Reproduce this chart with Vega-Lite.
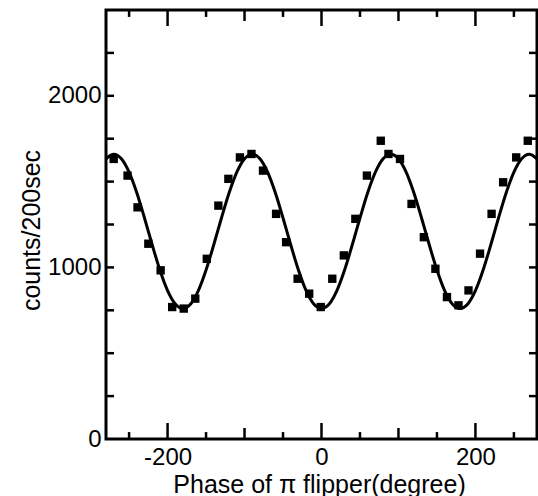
{
  "$schema": "https://vega.github.io/schema/vega-lite/v6.json",
  "width": 431,
  "height": 429,
  "autosize": {"type": "none"},
  "padding": {"left": 106, "top": 10, "right": 1, "bottom": 57},
  "background": "white",
  "config": {
    "view": {"stroke": "black", "strokeWidth": 3},
    "font": "Liberation Sans",
    "axis": {
      "domain": false,
      "grid": false,
      "ticks": false,
      "labelColor": "black",
      "titleColor": "black",
      "labelFont": "Liberation Sans",
      "titleFont": "Liberation Sans",
      "labelFontSize": 24,
      "titleFontSize": 25,
      "titleFontWeight": "normal"
    }
  },
  "datasets": {
    "curve": [
      {"phase": -280, "counts": 1633}, {"phase": -270, "counts": 1660}, {"phase": -260, "counts": 1633},
      {"phase": -250, "counts": 1555}, {"phase": -240, "counts": 1435}, {"phase": -230, "counts": 1288},
      {"phase": -220, "counts": 1132}, {"phase": -210, "counts": 985}, {"phase": -200, "counts": 865},
      {"phase": -190, "counts": 787}, {"phase": -180, "counts": 760}, {"phase": -170, "counts": 787},
      {"phase": -160, "counts": 865}, {"phase": -150, "counts": 985}, {"phase": -140, "counts": 1132},
      {"phase": -130, "counts": 1288}, {"phase": -120, "counts": 1435}, {"phase": -110, "counts": 1555},
      {"phase": -100, "counts": 1633}, {"phase": -90, "counts": 1660}, {"phase": -80, "counts": 1633},
      {"phase": -70, "counts": 1555}, {"phase": -60, "counts": 1435}, {"phase": -50, "counts": 1288},
      {"phase": -40, "counts": 1132}, {"phase": -30, "counts": 985}, {"phase": -20, "counts": 865},
      {"phase": -10, "counts": 787}, {"phase": 0, "counts": 760}, {"phase": 10, "counts": 787},
      {"phase": 20, "counts": 865}, {"phase": 30, "counts": 985}, {"phase": 40, "counts": 1132},
      {"phase": 50, "counts": 1288}, {"phase": 60, "counts": 1435}, {"phase": 70, "counts": 1555},
      {"phase": 80, "counts": 1633}, {"phase": 90, "counts": 1660}, {"phase": 100, "counts": 1633},
      {"phase": 110, "counts": 1555}, {"phase": 120, "counts": 1435}, {"phase": 130, "counts": 1288},
      {"phase": 140, "counts": 1132}, {"phase": 150, "counts": 985}, {"phase": 160, "counts": 865},
      {"phase": 170, "counts": 787}, {"phase": 180, "counts": 760}, {"phase": 190, "counts": 787},
      {"phase": 200, "counts": 865}, {"phase": 210, "counts": 985}, {"phase": 220, "counts": 1132},
      {"phase": 230, "counts": 1288}, {"phase": 240, "counts": 1435}, {"phase": 250, "counts": 1555},
      {"phase": 260, "counts": 1633}, {"phase": 270, "counts": 1660}, {"phase": 280, "counts": 1633}
    ],
    "measured": [
      {"phase": -270, "counts": 1632}, {"phase": -252, "counts": 1535}, {"phase": -239, "counts": 1350},
      {"phase": -225, "counts": 1138}, {"phase": -209, "counts": 983}, {"phase": -194, "counts": 769},
      {"phase": -179, "counts": 760}, {"phase": -164, "counts": 818}, {"phase": -149, "counts": 1050},
      {"phase": -134, "counts": 1360}, {"phase": -121, "counts": 1516}, {"phase": -106, "counts": 1641},
      {"phase": -91, "counts": 1661}, {"phase": -76, "counts": 1564}, {"phase": -59, "counts": 1312},
      {"phase": -46, "counts": 1147}, {"phase": -31, "counts": 934}, {"phase": -16, "counts": 847},
      {"phase": -1, "counts": 769}, {"phase": 14, "counts": 934}, {"phase": 29, "counts": 1070},
      {"phase": 44, "counts": 1283}, {"phase": 59, "counts": 1535}, {"phase": 77, "counts": 1738},
      {"phase": 87, "counts": 1661}, {"phase": 102, "counts": 1632}, {"phase": 117, "counts": 1370},
      {"phase": 133, "counts": 1176}, {"phase": 148, "counts": 992}, {"phase": 163, "counts": 827},
      {"phase": 178, "counts": 779}, {"phase": 191, "counts": 866}, {"phase": 206, "counts": 1080},
      {"phase": 221, "counts": 1312}, {"phase": 236, "counts": 1496}, {"phase": 253, "counts": 1641},
      {"phase": 268, "counts": 1738}
    ],
    "xMajor": [{"tick": -200}, {"tick": 0}, {"tick": 200}],
    "xMid": [{"tick": -100}, {"tick": 100}],
    "xMinor": [{"tick": -250}, {"tick": -150}, {"tick": -50}, {"tick": 50}, {"tick": 150}, {"tick": 250}],
    "yTicks": [{"tick": 250}, {"tick": 500}, {"tick": 750}, {"tick": 1000}, {"tick": 1250}, {"tick": 1500}, {"tick": 1750}, {"tick": 2000}, {"tick": 2250}]
  },
  "layer": [
    {
      "data": {"name": "curve"},
      "mark": {"type": "line", "color": "black", "strokeWidth": 3, "interpolate": "monotone", "clip": true},
      "encoding": {
        "x": {
          "field": "phase", "type": "quantitative",
          "scale": {"domain": [-280, 280], "nice": false, "zero": false},
          "axis": {
            "orient": "bottom",
            "values": [-200, 0, 200],
            "labelExpr": "'' + datum.value",
            "labelPadding": 6,
            "title": "Phase of  π  flipper(degree)",
            "titleX": 213,
            "titleY": 53,
            "titleBaseline": "alphabetic",
            "titleAnchor": null
          }
        },
        "y": {
          "field": "counts", "type": "quantitative",
          "scale": {"domain": [0, 2500], "nice": false},
          "axis": {
            "orient": "left",
            "values": [0, 1000, 2000],
            "labelExpr": "'' + datum.value",
            "labelPadding": 5,
            "title": "counts/200sec",
            "titleX": -75,
            "titleY": 220,
            "titleBaseline": "middle",
            "titleAngle": -90,
            "titleAlign": "center"
          }
        }
      }
    },
    {
      "data": {"name": "measured"},
      "mark": {"type": "square", "color": "black", "filled": true, "opacity": 1, "size": 70},
      "encoding": {
        "x": {"field": "phase", "type": "quantitative"},
        "y": {"field": "counts", "type": "quantitative"}
      }
    },
    {
      "data": {"name": "xMajor"},
      "mark": {"type": "tick", "orient": "vertical", "color": "black", "opacity": 1, "size": 16, "thickness": 2.5},
      "encoding": {"x": {"field": "tick", "type": "quantitative"}, "y": {"datum": 46.5}}
    },
    {
      "data": {"name": "xMajor"},
      "mark": {"type": "tick", "orient": "vertical", "color": "black", "opacity": 1, "size": 16, "thickness": 2.5},
      "encoding": {"x": {"field": "tick", "type": "quantitative"}, "y": {"datum": 2453.5}}
    },
    {
      "data": {"name": "xMid"},
      "mark": {"type": "tick", "orient": "vertical", "color": "black", "opacity": 1, "size": 11, "thickness": 2.5},
      "encoding": {"x": {"field": "tick", "type": "quantitative"}, "y": {"datum": 32}}
    },
    {
      "data": {"name": "xMid"},
      "mark": {"type": "tick", "orient": "vertical", "color": "black", "opacity": 1, "size": 11, "thickness": 2.5},
      "encoding": {"x": {"field": "tick", "type": "quantitative"}, "y": {"datum": 2468}}
    },
    {
      "data": {"name": "xMinor"},
      "mark": {"type": "tick", "orient": "vertical", "color": "black", "opacity": 1, "size": 7, "thickness": 2.5},
      "encoding": {"x": {"field": "tick", "type": "quantitative"}, "y": {"datum": 20}}
    },
    {
      "data": {"name": "xMinor"},
      "mark": {"type": "tick", "orient": "vertical", "color": "black", "opacity": 1, "size": 7, "thickness": 2.5},
      "encoding": {"x": {"field": "tick", "type": "quantitative"}, "y": {"datum": 2480}}
    },
    {
      "data": {"name": "yTicks"},
      "mark": {"type": "tick", "orient": "horizontal", "color": "black", "opacity": 1, "size": 8, "thickness": 2.5},
      "encoding": {"y": {"field": "tick", "type": "quantitative"}, "x": {"datum": -274.8}}
    },
    {
      "data": {"name": "yTicks"},
      "mark": {"type": "tick", "orient": "horizontal", "color": "black", "opacity": 1, "size": 8, "thickness": 2.5},
      "encoding": {"y": {"field": "tick", "type": "quantitative"}, "x": {"datum": 274.8}}
    }
  ]
}
